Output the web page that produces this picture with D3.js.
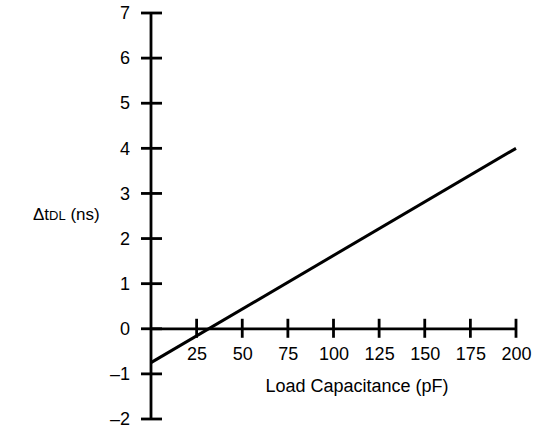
<!DOCTYPE html>
<html lang="en">
<head>
<meta charset="UTF-8">
<title>Delta tDL vs Load Capacitance</title>
<script src="https://d3js.org/d3.v7.min.js"></script>
<style>
    body { margin: 0; background: #fff; }
    svg text { font-family: "Liberation Sans", Arial, sans-serif; fill: #000; }
</style>
</head>
<body>
<div id="chart"></div>
<script>
    // data
    const capacitance = [0, 200];
    const deltaT = [-0.75, 4.0];
    const xTicks = [25, 50, 75, 100, 125, 150, 175, 200];
    const yTicks = [-2, -1, 0, 1, 2, 3, 4, 5, 6, 7];

    const W = 535, H = 429;

    const svg = d3.select("#chart").append("svg")
        .attr("width", W)
        .attr("height", H);

    const x = d3.scaleLinear().domain([0, 200]).range([151, 516]);
    const y = d3.scaleLinear().domain([-2, 7]).range([419, 13]);

    // y axis labels
    const yAxis = svg.append("g")
        .attr("transform", `translate(${x(0)},0)`)
        .call(d3.axisLeft(y).tickValues(yTicks).tickSize(0).tickPadding(21)
            .tickFormat(d => d < 0 ? "\u2013" + Math.abs(d) : d));
    yAxis.select(".domain").remove();
    yAxis.selectAll("text").attr("font-size", 18);

    svg.append("line")
        .attr("x1", x(0)).attr("x2", x(0))
        .attr("y1", y(7)).attr("y2", y(-2))
        .attr("stroke", "#000").attr("stroke-width", 2.8);

    svg.selectAll(".ytick").data(yTicks).enter().append("line")
        .attr("x1", x(0) - 10).attr("x2", x(0) + 11)
        .attr("y1", d => y(d)).attr("y2", d => y(d))
        .attr("stroke", "#000").attr("stroke-width", 2.8);

    // x axis (on y = 0)
    const xAxis = svg.append("g")
        .attr("transform", `translate(0,${y(0)})`)
        .call(d3.axisBottom(x).tickValues(xTicks).tickSize(0).tickPadding(18));
    xAxis.select(".domain").remove();
    xAxis.selectAll("text").attr("font-size", 18);

    svg.append("line")
        .attr("x1", x(0)).attr("x2", x(200))
        .attr("y1", y(0)).attr("y2", y(0))
        .attr("stroke", "#000").attr("stroke-width", 2.8);

    svg.selectAll(".xtick").data(xTicks).enter().append("line")
        .attr("x1", d => x(d)).attr("x2", d => x(d))
        .attr("y1", y(0) - 10).attr("y2", y(0) + 9)
        .attr("stroke", "#000").attr("stroke-width", 2.8);

    // data line
    const pts = capacitance.map((c, i) => [c, deltaT[i]]);
    svg.append("path")
        .datum(pts)
        .attr("fill", "none")
        .attr("stroke", "#000")
        .attr("stroke-width", 3)
        .attr("d", d3.line().x(d => x(d[0])).y(d => y(d[1])));

    // axis titles
    svg.append("text")
        .attr("x", 357).attr("y", 392)
        .attr("text-anchor", "middle")
        .attr("font-size", 18)
        .text("Load Capacitance (pF)");

    const yt = svg.append("text")
        .attr("x", 33).attr("y", 220)
        .attr("font-size", 17);
    yt.append("tspan").text("\u0394t");
    yt.append("tspan").attr("font-size", 13).text("DL");
    yt.append("tspan").text(" (ns)");
</script>
</body>
</html>
